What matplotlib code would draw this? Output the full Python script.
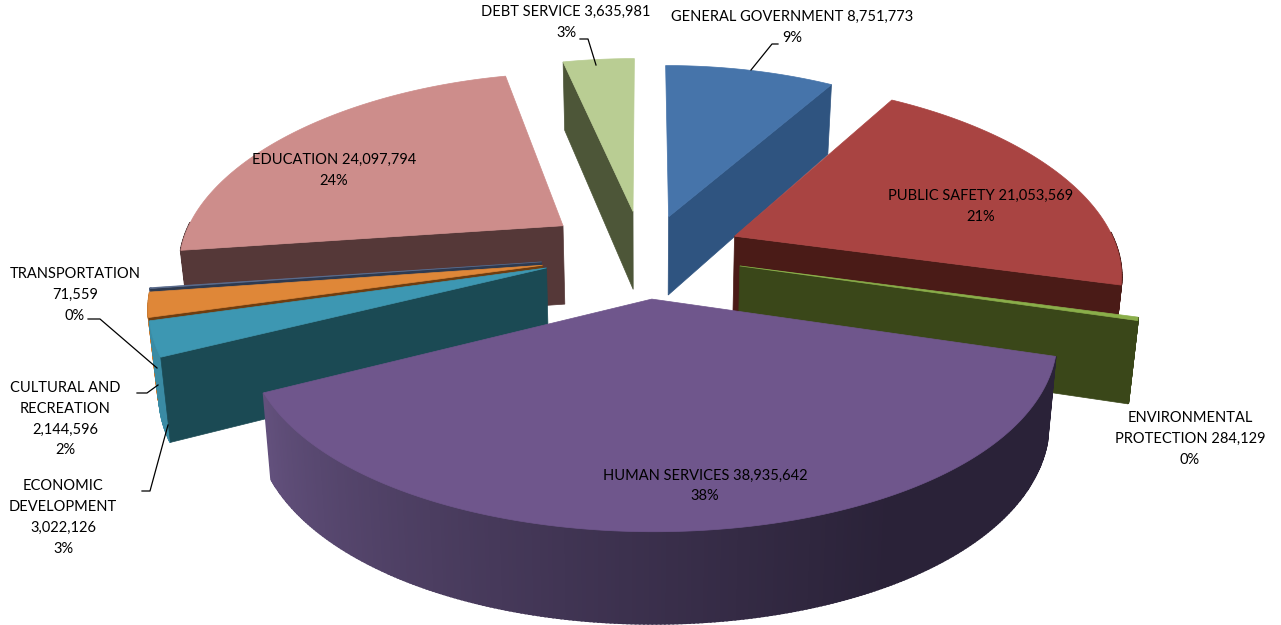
import numpy as np
import matplotlib
matplotlib.use("Agg")
import matplotlib.pyplot as plt
from matplotlib.patches import Polygon
from matplotlib.colors import to_rgb

categories = ["GENERAL GOVERNMENT", "PUBLIC SAFETY", "ENVIRONMENTAL PROTECTION", "HUMAN SERVICES",
              "ECONOMIC DEVELOPMENT", "CULTURAL AND RECREATION", "TRANSPORTATION", "EDUCATION", "DEBT SERVICE"]
values = [8751773, 21053569, 284129, 38935642, 3022126, 2144596, 71559, 24097794, 3635981]
percents = [9, 21, 0, 38, 3, 2, 0, 24, 3]
explode = [0.20, 0.235, 0.24, 0.25, 0.27, 0.27, 0.27, 0.30, 0.22]
nudge_x = [-1, 3, 1, -7, -6, -6, -6, 4, -8]
nudge_y = [1, 2, 4, 2, 0, 5, 5, 6, 0]
radius = [1.01, 1.01, 1.01, 1, 1, 1, 1, 1.015, 1.03]
top_colors = ["#4674aa", "#a94442", "#8aae4a", "#6f568c", "#3d97b2", "#df8738", "#5a6b8c", "#cd8d8b", "#b9cd93"]
cut_colors = ["#2f5480", "#4a1b17", "#3a4719", "#2c2440", "#1b4a54", "#6e3d10", "#2e3a50", "#553838", "#4d5638"]
wall_right = ["#2f5480", "#4a1b17", "#3a4719", "#2a2238", "#3a8ba4", "#c97a30", "#4a5a78", "#553838", "#4d5638"]
wall_left = ["#2f5480", "#4a1b17", "#3a4719", "#62507c", "#3a8ba4", "#c97a30", "#4a5a78", "#553838", "#4d5638"]
paint_order = [8, 0, 7, 6, 5, 4, 1, 2, 3]

CX, CY, RX, RY, KX, KY = 650, 250, 380, 182, 0.18, 0.15

def project(X, Y, z=0.0):
    sx = 1 / (1 - KX * Y)
    sy = 1 / (1 - KY * Y)
    px = RX * X * sx
    py = RY * Y * sy
    if z:
        px = px * (1 - 0.02 * z)
        py = py + z * 80 * (1 + 0.12 * Y)
    return CX + px, CY + py

fig = plt.figure(figsize=(12.81, 6.25), dpi=100)
ax = fig.add_axes([0, 0, 1, 1])
ax.set_xlim(0, 1281)
ax.set_ylim(625, 0)
ax.axis("off")

angles = np.concatenate([[0], np.cumsum(values) / np.sum(values) * 360])

def poly(pts, color, z, i, lw=0.5):
    pts = [(x + nudge_x[i], y + nudge_y[i]) for x, y in pts]
    ax.add_patch(Polygon(pts, closed=True, facecolor=color, edgecolor=color, linewidth=lw, zorder=z))

for order, i in enumerate(paint_order):
    a0, a1 = np.radians(angles[i]), np.radians(angles[i + 1])
    mid = (a0 + a1) / 2
    ox, oy = explode[i] * np.sin(mid), -explode[i] * np.cos(mid)
    th = np.linspace(a0, a1, max(3, int(np.degrees(a1 - a0) * 2) + 2))
    arcX, arcY = ox + radius[i] * np.sin(th), oy - radius[i] * np.cos(th)
    z = 2 + order * 3
    c0, c1 = np.array(to_rgb(wall_right[i])), np.array(to_rgb(wall_left[i]))
    for j in range(len(th) - 1):
        m = (th[j] + th[j + 1]) / 2
        if -np.cos(m) > -0.02:
            f = np.clip((np.degrees(m) - 150) / 93, 0, 1) ** 1.1
            col = c0 + (c1 - c0) * f
            pts = [project(arcX[j], arcY[j]), project(arcX[j + 1], arcY[j + 1]),
                   project(arcX[j + 1], arcY[j + 1], 1), project(arcX[j], arcY[j], 1)]
            poly(pts, col, z, i, lw=1.4)
    for a, n in ((a0, -1), (a1, 1)):
        if n * np.sin(a) > 1e-6:
            ex, ey = ox + radius[i] * np.sin(a), oy - radius[i] * np.cos(a)
            pts = [project(ox, oy), project(ex, ey), project(ex, ey, 1), project(ox, oy, 1)]
            poly(pts, cut_colors[i], z + 1, i)
    pts = [project(ox, oy)] + [project(x, y) for x, y in zip(arcX, arcY)]
    poly(pts, top_colors[i], z + 2, i)

FONT = dict(family="Lato", fontsize=10.5, color="black", ha="center", va="center", linespacing=1.62, zorder=60)
fmt = lambda v: f"{v:,}"
labels = [
    (792, 27.5, f"{categories[0]} {fmt(values[0])}\n{percents[0]}%"),
    (981, 206.5, f"{categories[1]} {fmt(values[1])}\n{percents[1]}%"),
    (1190, 439, f"ENVIRONMENTAL\nPROTECTION {fmt(values[2])}\n{percents[2]}%"),
    (705, 486, f"{categories[3]} {fmt(values[3])}\n{percents[3]}%"),
    (63, 517.5, f"ECONOMIC\nDEVELOPMENT\n{fmt(values[4])}\n{percents[4]}%"),
    (65, 419, f"CULTURAL AND\nRECREATION\n{fmt(values[5])}\n{percents[5]}%"),
    (75, 295, f"{categories[6]}\n{fmt(values[6])}\n{percents[6]}%"),
    (334, 170.5, f"{categories[7]} {fmt(values[7])}\n{percents[7]}%"),
    (566, 22.5, f"{categories[8]} {fmt(values[8])}\n{percents[8]}%"),
]
for x, y, s in labels:
    ax.text(x, y, s, **FONT)

leaders = [([580, 588, 596], [39, 39, 65]), ([778, 772, 751], [44, 44, 70]),
           ([88, 100, 157], [319, 319, 368]), ([137, 147, 158], [393, 393, 385]),
           ([142, 150, 168], [491, 491, 425])]
for xs, ys in leaders:
    ax.plot(xs, ys, color="black", lw=0.9, zorder=55)

fig.savefig("out.png", dpi=100)
